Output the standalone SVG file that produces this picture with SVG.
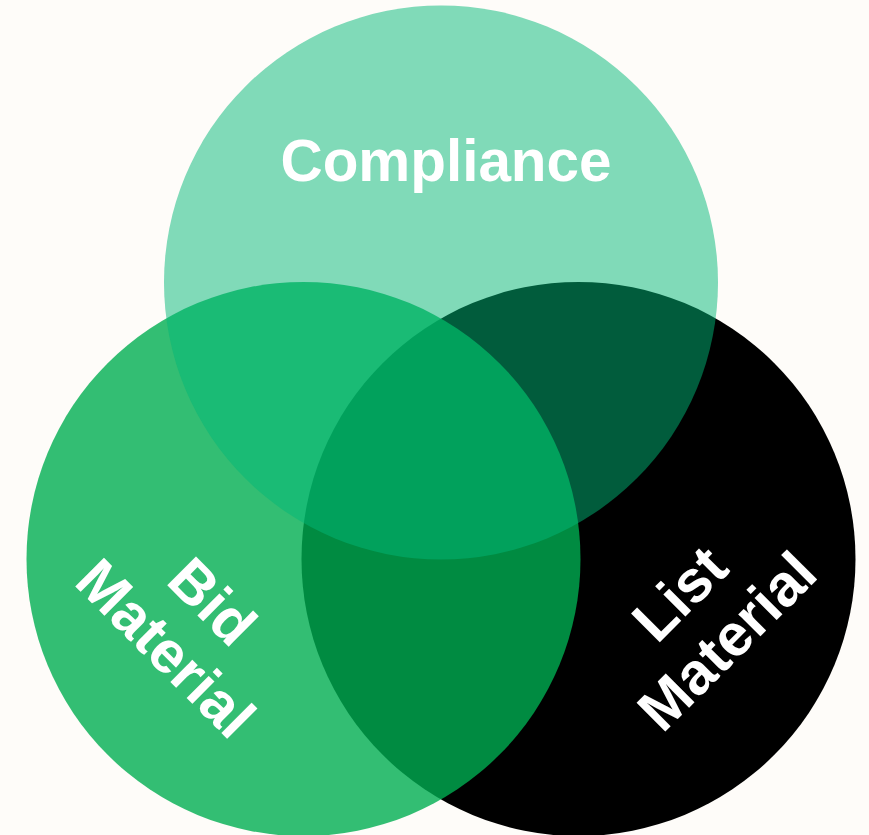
<svg xmlns="http://www.w3.org/2000/svg" width="869" height="835" viewBox="0 0 869 835">
  <style>
    .lbl { font-family: "Liberation Sans", Arial, sans-serif; font-weight: bold; font-size: 59px; fill: #ffffff; text-anchor: middle; }
  </style>
  <rect x="0" y="0" width="869" height="835" fill="#FEFCF9"/>
  <g id="list-material">
    <circle cx="578.5" cy="559" r="277" fill="#000000"/>
  </g>
  <g id="bid-material">
    <circle cx="303.5" cy="559" r="277" fill="#00AE51" fill-opacity="0.8"/>
  </g>
  <g id="compliance">
    <circle cx="441" cy="282.5" r="277" fill="#02B878" fill-opacity="0.5"/>
  </g>
  <g id="connectors"></g>
  <g id="labels">
    <text class="lbl" x="446" y="181" textLength="331" lengthAdjust="spacingAndGlyphs">Compliance</text>
    <g transform="translate(198,616) rotate(45)">
      <text class="lbl" x="0" y="0">Bid</text>
      <text class="lbl" x="0" y="66">Material</text>
    </g>
    <g transform="translate(694,608) rotate(-45)">
      <text class="lbl" x="0" y="0">List</text>
      <text class="lbl" x="0" y="67">Material</text>
    </g>
  </g>
</svg>
